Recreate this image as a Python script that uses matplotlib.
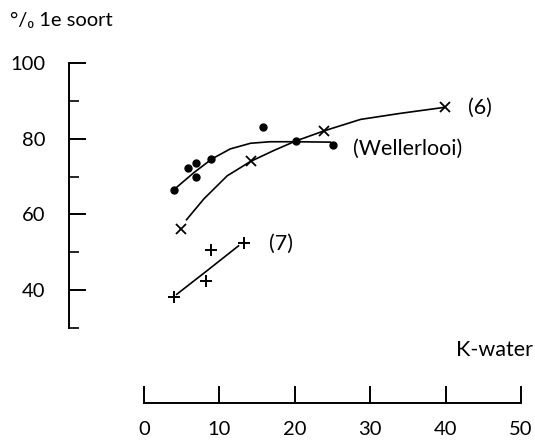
import matplotlib
matplotlib.use("Agg")
import matplotlib.pyplot as plt
from matplotlib.ticker import FixedLocator

plt.rcParams['font.family'] = ['Lato', 'DejaVu Sans']

# Wellerlooi observations (dots) and the hand-fitted curve through them
well_x = [3.9, 5.75, 6.9, 6.9, 8.9, 15.8, 20.1, 25.0]
well_y = [66.5, 72.2, 73.6, 69.9, 74.7, 83.1, 79.4, 78.4]
well_curve_x = [3.9, 6.55, 9.0, 11.4, 14.1, 16.7, 20.0, 24.7]
well_curve_y = [66.5, 71.0, 74.7, 77.3, 78.8, 79.2, 79.2, 79.1]

# Series (6): crosses and fitted curve
s6_x = [4.9, 14.1, 23.9, 39.9]
s6_y = [56.1, 74.0, 82.1, 88.3]
s6_curve_x = [5.6, 7.9, 11.0, 14.1, 17.2, 20.1, 23.9, 28.7, 34.0, 39.9]
s6_curve_y = [58.6, 64.1, 70.2, 74.0, 76.9, 79.4, 82.1, 85.1, 86.7, 88.3]

# Series (7): plus signs and fitted line
s7_x = [4.0, 8.2, 8.9, 13.2]
s7_y = [38.3, 42.5, 50.6, 52.4]
s7_line_x = [4.3, 8.3, 12.5]
s7_line_y = [38.9, 45.1, 51.7]

y_major = [40, 60, 80, 100]
y_minor = [30, 50, 70, 90]
x_ticks = [0, 10, 20, 30, 40, 50]

FS = 14.5
W, H = 535, 441
fig = plt.figure(figsize=(W / 100, H / 100), dpi=100)

# Plot area with the vertical percentage axis
ax = fig.add_axes([69 / W, (H - 328) / H, (521 - 69) / W, 265 / H])
ax.set_xlim(-10, 50)
ax.set_ylim(30, 100)
for side in ['top', 'right', 'bottom']:
    ax.spines[side].set_visible(False)
ax.spines['left'].set_linewidth(1.4)
ax.set_xticks([])
ax.yaxis.set_major_locator(FixedLocator(y_major))
ax.yaxis.set_minor_locator(FixedLocator(y_minor))
ax.tick_params(axis='y', which='major', direction='in', length=12, width=1.4,
               pad=17, labelsize=FS)
ax.tick_params(axis='y', which='minor', direction='in', length=7, width=1.2)
ax.patch.set_alpha(0)

lw = 1.2
ax.plot(well_curve_x, well_curve_y, color='black', lw=lw)
ax.plot(well_x, well_y, 'o', color='black', ms=5)
ax.plot(s6_curve_x, s6_curve_y, color='black', lw=lw)
ax.plot(s6_x, s6_y, 'x', color='black', ms=7, mew=1.3)
ax.plot(s7_line_x, s7_line_y, color='black', lw=lw)
ax.plot(s7_x, s7_y, '+', color='black', ms=9, mew=1.4)

ax.text(27.75, 77.2, '(Wellerlooi)', fontsize=FS + 1, va='center', ha='left')
ax.text(42.9, 88.1, '(6)', fontsize=FS + 1, va='center', ha='left')
ax.text(16.5, 52.2, '(7)', fontsize=FS + 1, va='center', ha='left')

# Separate horizontal axis below the plot
axx = fig.add_axes([144 / W, (H - 403) / H, (521 - 144) / W, 0.01])
axx.set_xlim(0, 50)
axx.set_ylim(0, 1)
for side in ['top', 'right', 'left']:
    axx.spines[side].set_visible(False)
axx.spines['bottom'].set_linewidth(1.4)
axx.set_yticks([])
axx.set_xticks(x_ticks)
axx.tick_params(axis='x', direction='in', length=12, width=1.4, pad=13,
                labelsize=FS)
axx.patch.set_alpha(0)

fig.text(533 / W, 1 - 350 / H, 'K-water', fontsize=FS + 1, ha='right', va='center')
fig.text(10 / W, 1 - 20 / H, '°/₀ 1e soort', fontsize=FS, ha='left', va='center')

fig.savefig('out.png', dpi=100)
